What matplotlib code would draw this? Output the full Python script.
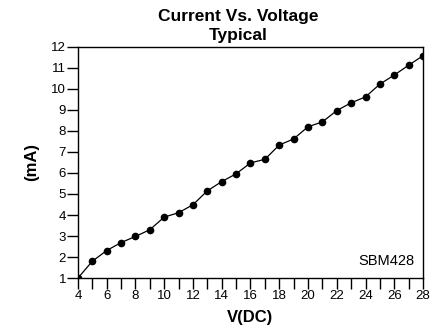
import matplotlib
matplotlib.use('Agg')
import matplotlib.pyplot as plt
from matplotlib.ticker import MultipleLocator

plt.rcParams['font.family'] = ['Liberation Sans', 'DejaVu Sans']

# data
voltage = [4, 5, 6, 7, 8, 9, 10, 11, 12, 13, 14, 15, 16,
           17, 18, 19, 20, 21, 22, 23, 24, 25, 26, 27, 28]
current_ma = [1.00, 1.80, 2.31, 2.69, 2.98, 3.30, 3.90, 4.11, 4.49, 5.15,
              5.59, 5.96, 6.48, 6.65, 7.33, 7.62, 8.20, 8.43, 8.97, 9.34,
              9.62, 10.23, 10.66, 11.13, 11.58]
x_ticks = list(range(4, 29, 2))
y_ticks = list(range(1, 13))

fig = plt.figure(figsize=(4.33, 3.35), dpi=100)
ax = fig.add_axes([0.180, 0.170, 0.797, 0.690])

ax.plot(voltage, current_ma, color='black', linewidth=0.9,
        marker='o', markersize=4.5, markerfacecolor='black', markeredgecolor='black')

ax.set_xlim(4, 28)
ax.set_ylim(1, 12)
ax.set_xticks(x_ticks)
ax.xaxis.set_minor_locator(MultipleLocator(1))
ax.set_yticks(y_ticks)

ax.tick_params(axis='both', which='both', direction='out', width=1.0, labelsize=9.5, colors='black')
ax.tick_params(axis='x', which='both', length=8, pad=0.5)
ax.tick_params(axis='y', length=8, pad=0.5)

for s in ax.spines.values():
    s.set_linewidth(1.0)

ax.set_xlabel('V(DC)', fontsize=12, fontweight='bold', labelpad=6)
ax.set_ylabel('(mA)', fontsize=12, fontweight='bold', labelpad=9)

fig.text(0.55, 0.952, 'Current Vs. Voltage', ha='center', va='center',
         fontsize=12.5, fontweight='bold')
fig.text(0.55, 0.895, 'Typical', ha='center', va='center',
         fontsize=12.5, fontweight='bold')

ax.text(0.975, 0.045, 'SBM428', transform=ax.transAxes, ha='right', va='bottom',
        fontsize=10.5)

fig.savefig('out.png', dpi=100, facecolor='white')
